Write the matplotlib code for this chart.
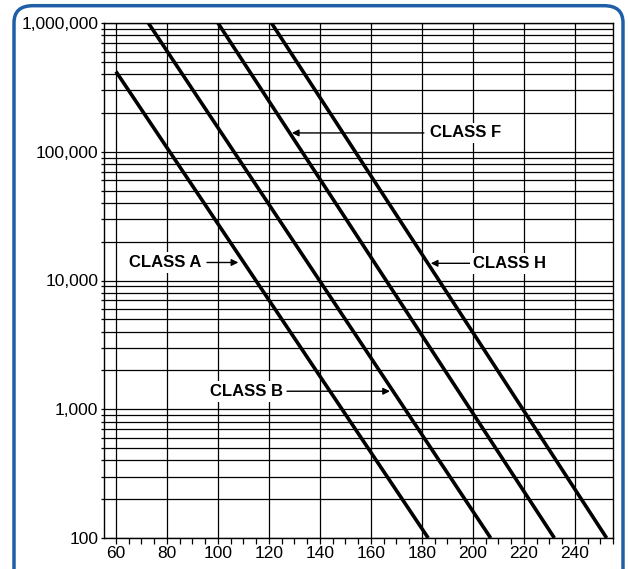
import matplotlib.pyplot as plt
from matplotlib.patches import FancyBboxPatch
from matplotlib.ticker import FixedLocator, LogLocator, NullFormatter, MultipleLocator

plt.rcParams['font.family'] = ['Liberation Sans', 'DejaVu Sans']

# temperature (C) vs hours of life
class_a_temp = [60, 182.5]
class_a_hours = [420000, 100]
class_b_temp = [72.7, 207]
class_b_hours = [1000000, 100]
class_f_temp = [100, 232]
class_f_hours = [1000000, 100]
class_h_temp = [121, 252.5]
class_h_hours = [1000000, 100]

x_ticks = [60, 80, 100, 120, 140, 160, 180, 200, 220, 240]
y_ticks = [100, 1000, 10000, 100000, 1000000]
y_labels = ["100", "1,000", "10,000", "100,000", "1,000,000"]

# label text, text position, arrow tail, arrow head
labels = [
    ("CLASS A", (79.4, 13800), (95.7, 13800), (108.0, 13800)),
    ("CLASS B", (111.2, 1380), (127.1, 1380), (167.5, 1380)),
    ("CLASS F", (197.1, 140000), (180.8, 140000), (129.0, 140000)),
    ("CLASS H", (214.3, 13600), (200.0, 13600), (183.5, 13600)),
]

fig = plt.figure(figsize=(6.28, 5.69), dpi=100)
ax = fig.add_axes([104 / 628, 1 - 538 / 569, 509 / 628, 515 / 569])

# blue rounded frame around everything
frame = FancyBboxPatch((14 / 628, -0.05), 609 / 628, 1.04, boxstyle="round,pad=0,rounding_size=0.03",
                       transform=fig.transFigure, fill=False, edgecolor="#1f5fa8", linewidth=2.5,
                       clip_on=False, zorder=0)
fig.patches.append(frame)

for t, h in [(class_a_temp, class_a_hours), (class_b_temp, class_b_hours),
             (class_f_temp, class_f_hours), (class_h_temp, class_h_hours)]:
    ax.plot(t, h, color="black", linewidth=2.6, solid_capstyle="butt", zorder=3)

ax.set_yscale("log")
ax.set_xlim(55.3, 255)
ax.set_ylim(100, 1000000)

ax.xaxis.set_major_locator(FixedLocator(x_ticks))
ax.xaxis.set_minor_locator(MultipleLocator(5))
ax.yaxis.set_major_locator(FixedLocator(y_ticks))
ax.yaxis.set_minor_locator(LogLocator(base=10, subs=range(2, 10)))
ax.yaxis.set_minor_formatter(NullFormatter())
ax.set_yticklabels(y_labels)

ax.grid(True, which="major", axis="both", color="black", linewidth=0.9)
ax.grid(True, which="minor", axis="y", color="black", linewidth=0.9)

ax.tick_params(axis="both", which="both", direction="out", color="black", width=0.9)
ax.tick_params(axis="x", which="both", length=4)
ax.tick_params(axis="y", which="both", length=2)
ax.tick_params(axis="both", labelsize=12.5, pad=2)

for s in ax.spines.values():
    s.set_linewidth(1.0)

for txt, pos, tail, head in labels:
    ax.annotate("", xy=head, xytext=tail,
                arrowprops=dict(arrowstyle="-|>", color="black", lw=1, mutation_scale=10,
                                shrinkA=0, shrinkB=0), zorder=4)
    ax.text(pos[0], pos[1], txt, ha="center", va="center", fontsize=12, fontweight="bold",
            zorder=5, bbox=dict(facecolor="white", edgecolor="none", pad=2))

fig.savefig("out.png", dpi=100)
